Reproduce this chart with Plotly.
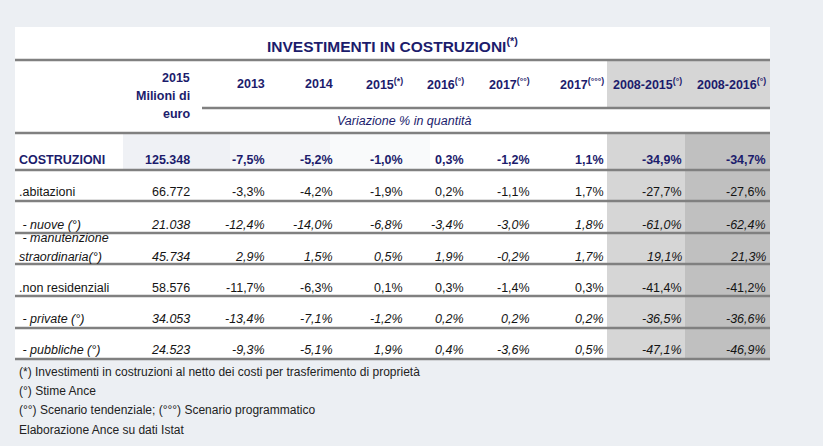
import plotly.graph_objects as go

# ---------------------------------
# Data
# ---------------------------------

row_labels = [
    "COSTRUZIONI",
    ".abitazioni",
    " - nuove (°)",
    " - manutenzione<br>straordinaria(°)",
    ".non residenziali",
    " - private (°)",
    " - pubbliche (°)",
]

mln_euro_2015 = [125348, 66772, 21038, 45734, 58576, 34053, 24523]

var_2013 = [-7.5, -3.3, -12.4, 2.9, -11.7, -13.4, -9.3]
var_2014 = [-5.2, -4.2, -14.0, 1.5, -6.3, -7.1, -5.1]
var_2015 = [-1.0, -1.9, -6.8, 0.5, 0.1, -1.2, 1.9]
var_2016 = [0.3, 0.2, -3.4, 1.9, 0.3, 0.2, 0.4]
var_2017_tend = [-1.2, -1.1, -3.0, -0.2, -1.4, 0.2, -3.6]
var_2017_prog = [1.1, 1.7, 1.8, 1.7, 0.3, 0.2, 0.5]
var_2008_2015 = [-34.9, -27.7, -61.0, 19.1, -41.4, -36.5, -47.1]
var_2008_2016 = [-34.7, -27.6, -62.4, 21.3, -41.2, -36.6, -46.9]

col_headers = [
    "2013", "2014", "2015<sup>(*)</sup>", "2016<sup>(°)</sup>",
    "2017<sup>(°°)</sup>", "2017<sup>(°°°)</sup>",
    "2008-2015<sup>(°)</sup>", "2008-2016<sup>(°)</sup>",
]

footnotes = [
    "(*) Investimenti in costruzioni al netto dei costi per trasferimento di proprietà",
    "(°) Stime Ance",
    "(°°) Scenario tendenziale; (°°°) Scenario programmatico",
    "Elaborazione Ance su dati Istat",
]

var_cols = [var_2013, var_2014, var_2015, var_2016,
            var_2017_tend, var_2017_prog, var_2008_2015, var_2008_2016]

# ---------------------------------
# Layout helpers
# ---------------------------------

NAVY = "#1c1c6c"
BLACK = "#141414"
LINE = "#808080"
FONT = "Arial, Liberation Sans, sans-serif"
FS = 12.5

col_right = [267, 335, 405, 466, 532, 606, 684, 768]   # right edge of each % column
mln_right = 192
row_y = [160, 192, 225, 257, 288, 319, 350]
row_lines = [170, 201, 233, 264, 296, 328, 359]
italic_rows = {2, 3, 5, 6}


def fmt_pct(v):
    return f"{v:.1f}".replace(".", ",") + "%"


def fmt_mln(v):
    return f"{v:,}".replace(",", ".")


def style(text, i):
    if i == 0:
        return f"<b>{text}</b>"
    if i in italic_rows:
        return f"<i>{text}</i>"
    return text


fig = go.Figure()
shapes = []
annotations = []

# ---------------------------------
# Table background and grey columns
# ---------------------------------

shapes.append(dict(type="rect", x0=15, x1=770, y0=27, y1=359,
                   fillcolor="white", line_width=0, layer="below"))
# faint tint behind the COSTRUZIONI figures, fading to the right
for x0, x1, c in [(123, 230, "#eff1f5"), (230, 330, "#f4f5f8"), (330, 430, "#f9fafb")]:
    shapes.append(dict(type="rect", x0=x0, x1=x1, y0=133, y1=170,
                       fillcolor=c, line_width=0, layer="below"))
shapes.append(dict(type="rect", x0=607, x1=770, y0=60, y1=108,
                   fillcolor="#d6d6d6", line_width=0, layer="below"))
shapes.append(dict(type="rect", x0=607, x1=685, y0=133, y1=359,
                   fillcolor="#d6d6d6", line_width=0, layer="below"))
shapes.append(dict(type="rect", x0=685, x1=770, y0=133, y1=359,
                   fillcolor="#c0c0c0", line_width=0, layer="below"))

# ---------------------------------
# Horizontal rules
# ---------------------------------

for y, x0 in [(60, 15), (108, 202), (133, 15)] + [(y, 15) for y in row_lines]:
    shapes.append(dict(type="line", x0=x0, x1=770, y0=y, y1=y,
                       line=dict(color=LINE, width=2.5)))

# ---------------------------------
# Title and headers
# ---------------------------------

annotations.append(dict(x=392, y=45, text="<b>INVESTIMENTI IN COSTRUZIONI<sup>(*)</sup></b>",
                        font=dict(size=15.5, color=NAVY)))

for txt, y in [("2015", 78), ("Milioni di", 96), ("euro", 114)]:
    annotations.append(dict(x=mln_right, y=y, text=f"<b>{txt}</b>", xanchor="right",
                            font=dict(size=FS, color=NAVY)))

for x, txt in zip(col_right, col_headers):
    annotations.append(dict(x=x, y=84, text=f"<b>{txt}</b>", xanchor="right",
                            font=dict(size=FS, color=NAVY)))

annotations.append(dict(x=404, y=121, text="<i>Variazione % in quantità</i>",
                        font=dict(size=FS, color=NAVY)))

# ---------------------------------
# Table body
# ---------------------------------

for i, label in enumerate(row_labels):
    color = NAVY if i == 0 else BLACK
    lines = label.split("<br>")
    for k, part in enumerate(lines):
        y = row_y[i] - 19 * (len(lines) - 1 - k)
        annotations.append(dict(x=17, y=y, text=style(part, i), xanchor="left",
                                font=dict(size=FS, color=color)))
    annotations.append(dict(x=mln_right, y=row_y[i], text=style(fmt_mln(mln_euro_2015[i]), i),
                            xanchor="right", font=dict(size=FS, color=color)))
    for x, col in zip(col_right, var_cols):
        annotations.append(dict(x=x, y=row_y[i], text=style(fmt_pct(col[i]), i),
                                xanchor="right", font=dict(size=FS, color=color)))

# ---------------------------------
# Footnotes
# ---------------------------------

for y, note in zip([372, 391, 410, 430], footnotes):
    annotations.append(dict(x=17, y=y, text=note, xanchor="left",
                            font=dict(size=12, color="#222222")))

for a in annotations:
    a.update(xref="x", yref="y", showarrow=False, yanchor="middle")
    a.setdefault("xanchor", "center")

# ---------------------------------
# Final layout
# ---------------------------------

fig.update_layout(
    width=823,
    height=446,
    margin=dict(l=0, r=0, t=0, b=0),
    paper_bgcolor="#eceff3",
    plot_bgcolor="rgba(0,0,0,0)",
    font=dict(family=FONT),
    xaxis=dict(range=[0, 823], visible=False, fixedrange=True),
    yaxis=dict(range=[446, 0], visible=False, fixedrange=True),
    shapes=shapes,
    annotations=annotations,
    showlegend=False,
)

# page margin off so the figure sits at the top-left corner
fig.write_html("out.html", config={"displayModeBar": False},
               post_script="document.body.style.margin='0';")
